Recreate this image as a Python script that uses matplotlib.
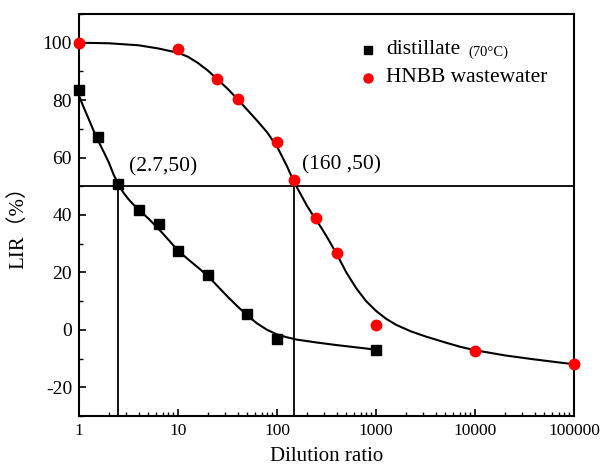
import matplotlib.pyplot as plt
from matplotlib.ticker import FixedLocator, LogLocator, MultipleLocator, NullFormatter

plt.rcParams['font.family'] = ['Liberation Serif', 'Noto Sans CJK SC']
plt.rcParams['axes.unicode_minus'] = False

# measured points
dist_x = [1, 1.55, 2.5, 4, 6.5, 10, 20, 50, 100, 1000]
dist_y = [83.5, 67, 50.7, 41.7, 37, 27.5, 19.1, 5.4, -3.2, -6.9]
hnbb_x = [1, 10, 25, 40, 100, 150, 250, 400, 1000, 10000, 100000]
hnbb_y = [100, 97.8, 87.2, 80.4, 65.4, 52.3, 39.1, 26.6, 1.7, -7.3, -11.9]

# fitted curves
dist_fit_x = [1, 1.12, 1.26, 1.41, 1.58, 1.78, 2.0, 2.24, 2.51, 2.82, 3.16, 3.55,
              3.98, 5.01, 6.31, 7.94, 10, 12.6, 15.8, 20, 25.1, 31.6, 39.8, 50.1,
              63.1, 79.4, 100, 126, 158, 251, 398, 631, 1000]
dist_fit_y = [81.5, 77.3, 73.2, 69.2, 65.5, 61.9, 58.3, 54.0, 50.5, 47.7, 45.5, 43.6,
              41.9, 38.8, 35.3, 31.5, 27.6, 24.6, 21.8, 18.8, 15.2, 11.6, 8.2, 5.0,
              2.2, 0.0, -1.6, -2.6, -3.4, -4.4, -5.3, -6.1, -6.9]
hnbb_fit_x = [1, 2, 4, 6.3, 10, 12.6, 15.8, 20, 25.1, 31.6, 39.8, 50.1, 63.1, 79.4,
              100, 112, 126, 141, 151, 178, 200, 224, 251, 282, 316, 355, 398, 501,
              631, 794, 1000, 1259, 1585, 2239, 3162, 5012, 7079, 10000, 20000,
              40000, 100000]
hnbb_fit_y = [100, 99.8, 99.1, 98.0, 96.5, 95.1, 93.0, 90.3, 87.2, 84.0, 80.4, 76.6,
              72.8, 68.8, 63.8, 60.5, 57.0, 53.2, 51.0, 46.5, 43.3, 40.6, 38.0, 35.4,
              32.6, 29.6, 26.6, 20.0, 14.5, 10.0, 6.6, 3.9, 1.8, -0.5, -2.3, -4.4,
              -5.9, -7.1, -8.9, -10.3, -12.0]

# half-inhibition points
cross_x = [2.5, 150]
cross_lbl = ['(2.7,50)', '(160 ,50)']
half_y = 50

fig = plt.figure(figsize=(6, 4.71), dpi=100)
ax = fig.add_axes([0.1317, 0.1168, 0.825, 0.8535])

ax.plot(dist_fit_x, dist_fit_y, color='black', lw=1.5, zorder=2)
ax.plot(hnbb_fit_x, hnbb_fit_y, color='black', lw=1.5, zorder=2)
ax.plot(dist_x, dist_y, 's', color='black', ms=6.5, ls='none', zorder=3, clip_on=False)
ax.plot(hnbb_x, hnbb_y, 'o', color='#ff0000', ms=7.5, ls='none', zorder=3, clip_on=False)

ax.axhline(half_y, color='black', lw=1.3, zorder=1)
for cx in cross_x:
    ax.plot([cx, cx], [-30, half_y], color='black', lw=1.3, zorder=1)

ax.text(3.2, 56.6, cross_lbl[0], fontsize=15.5, ha='left', va='center')
ax.text(179, 57.6, cross_lbl[1], fontsize=15.5, ha='left', va='center')

# legend
ax.plot([0.584], [0.910], 's', color='black', ms=5.5, transform=ax.transAxes)
ax.plot([0.584], [0.841], 'o', color='#ff0000', ms=6.5, transform=ax.transAxes)
ax.text(0.620, 0.912, 'distillate', fontsize=15.5, va='center', transform=ax.transAxes)
ax.text(0.786, 0.905, '(70°C)', fontsize=10.5, va='center', transform=ax.transAxes)
ax.text(0.620, 0.843, 'HNBB wastewater', fontsize=15.5, va='center', transform=ax.transAxes)

ax.set_xscale('log')
ax.set_xlim(1, 100000)
ax.set_ylim(-30, 110)
ax.xaxis.set_major_locator(FixedLocator([1, 10, 100, 1000, 10000, 100000]))
ax.set_xticklabels(['1', '10', '100', '1000', '10000', '100000'])
ax.xaxis.set_minor_locator(LogLocator(base=10, subs=range(2, 10), numticks=20))
ax.xaxis.set_minor_formatter(NullFormatter())
ax.yaxis.set_major_locator(FixedLocator([-20, 0, 20, 40, 60, 80, 100]))
ax.yaxis.set_minor_locator(MultipleLocator(10))
ax.tick_params(which='both', direction='in', top=False, right=False, labelsize=14)
ax.tick_params(axis='x', labelsize=12.5)
ax.tick_params(which='major', length=5, width=1.2, pad=5)
ax.tick_params(which='minor', length=3, width=1)
for s in ax.spines.values():
    s.set_linewidth(1.5)

ax.set_xlabel('Dilution ratio', fontsize=15, labelpad=6)
ax.set_ylabel('LIR（%）', fontsize=15)
ax.yaxis.set_label_coords(-0.103, 0.48)

fig.savefig('out.png', dpi=100)
